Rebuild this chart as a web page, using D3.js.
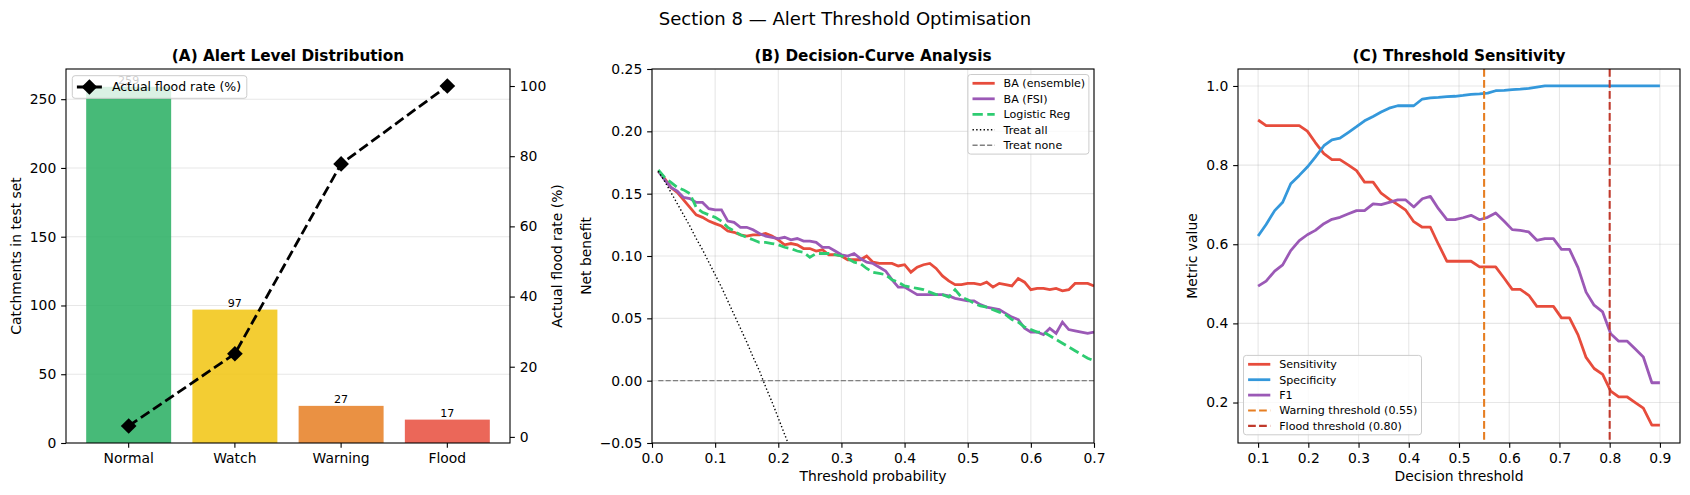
<!DOCTYPE html>
<html>
<head>
<meta charset="utf-8">
<script src="https://cdn.jsdelivr.net/npm/d3@7"></script>
<style>
  body { margin: 0; background: #fff; }
  text { font-family: "DejaVu Sans", sans-serif; }
</style>
</head>
<body>
<svg id="chart"></svg>
<script>
// panel A data
const alertLevels = ['Normal', 'Watch', 'Warning', 'Flood']
const alertCounts = [259, 97, 27, 17]
const alertFloodRate = [3.1, 23.7, 77.8, 100]
const alertColors = ['#27ae60', '#f1c40f', '#e67e22', '#e74c3c']

// panel B data (decision curves)
const dcaThresholds = [0.01, 0.02, 0.03, 0.04, 0.05, 0.06, 0.07, 0.08, 0.09, 0.10,
  0.11, 0.12, 0.13, 0.14, 0.15, 0.16, 0.17, 0.18, 0.19, 0.20,
  0.21, 0.22, 0.23, 0.24, 0.25, 0.26, 0.27, 0.28, 0.29, 0.30,
  0.31, 0.32, 0.33, 0.34, 0.35, 0.36, 0.37, 0.38, 0.39, 0.40,
  0.41, 0.42, 0.43, 0.44, 0.45, 0.46, 0.47, 0.48, 0.49, 0.50,
  0.51, 0.52, 0.53, 0.54, 0.55, 0.56, 0.57, 0.58, 0.59, 0.60,
  0.61, 0.62, 0.63, 0.64, 0.65, 0.66, 0.67, 0.68, 0.69, 0.70]
const dcaEnsemble = [0.168, 0.162, 0.155, 0.151, 0.145, 0.139, 0.133, 0.131, 0.128, 0.126,
  0.124, 0.120, 0.119, 0.117, 0.116, 0.117, 0.117, 0.118, 0.116, 0.113,
  0.109, 0.110, 0.109, 0.106, 0.106, 0.104, 0.105, 0.101, 0.101, 0.100,
  0.097, 0.097, 0.097, 0.100, 0.095, 0.094, 0.094, 0.094, 0.092, 0.093,
  0.087, 0.091, 0.093, 0.094, 0.090, 0.084, 0.080, 0.077, 0.077, 0.078,
  0.078, 0.077, 0.079, 0.075, 0.078, 0.077, 0.076, 0.082, 0.079, 0.073,
  0.074, 0.074, 0.073, 0.074, 0.072, 0.073, 0.078, 0.078, 0.078, 0.076]
const dcaFsi = [0.168, 0.161, 0.155, 0.152, 0.147, 0.146, 0.143, 0.143, 0.138, 0.137,
  0.137, 0.128, 0.127, 0.123, 0.123, 0.121, 0.118, 0.116, 0.115, 0.114,
  0.115, 0.113, 0.114, 0.112, 0.112, 0.111, 0.107, 0.107, 0.104, 0.101,
  0.100, 0.102, 0.098, 0.095, 0.094, 0.091, 0.088, 0.081, 0.075, 0.075,
  0.072, 0.069, 0.069, 0.069, 0.069, 0.069, 0.068, 0.066, 0.065, 0.064,
  0.064, 0.061, 0.059, 0.058, 0.057, 0.054, 0.051, 0.049, 0.042, 0.039,
  0.039, 0.037, 0.042, 0.038, 0.047, 0.041, 0.040, 0.039, 0.038, 0.039]
const dcaLogistic = [0.169, 0.163, 0.159, 0.155, 0.153, 0.150, 0.139, 0.135, 0.133, 0.131,
  0.128, 0.123, 0.120, 0.117, 0.115, 0.113, 0.111, 0.111, 0.110, 0.109,
  0.107, 0.106, 0.104, 0.103, 0.099, 0.102, 0.102, 0.102, 0.101, 0.100,
  0.098, 0.095, 0.094, 0.090, 0.087, 0.086, 0.085, 0.081, 0.079, 0.076,
  0.075, 0.074, 0.073, 0.071, 0.069, 0.069, 0.067, 0.073, 0.067, 0.065,
  0.062, 0.060, 0.059, 0.057, 0.055, 0.053, 0.049, 0.047, 0.043, 0.041,
  0.039, 0.039, 0.036, 0.033, 0.030, 0.027, 0.024, 0.021, 0.018, 0.016]
// treat-all only matters until it leaves the plot
const dcaTreatAll = [0.168, 0.160, 0.151, 0.142, 0.133, 0.124, 0.114, 0.105, 0.095, 0.085,
  0.075, 0.064, 0.053, 0.042, 0.031, 0.019, 0.008, -0.005, -0.017, -0.030,
  -0.043, -0.056]
const dcaTreatNone = 0

// panel C data (threshold sweep)
const sweepThresholds = [0.100, 0.116, 0.133, 0.149, 0.165, 0.182, 0.198, 0.214, 0.231, 0.247,
  0.263, 0.280, 0.296, 0.312, 0.329, 0.345, 0.361, 0.378, 0.394, 0.410,
  0.427, 0.443, 0.459, 0.476, 0.492, 0.508, 0.524, 0.541, 0.557, 0.573,
  0.590, 0.606, 0.622, 0.639, 0.655, 0.671, 0.688, 0.704, 0.720, 0.737,
  0.753, 0.769, 0.786, 0.802, 0.818, 0.835, 0.851, 0.867, 0.884, 0.900]
const sensitivity = [0.914, 0.900, 0.900, 0.900, 0.900, 0.900, 0.886, 0.857, 0.829, 0.814,
  0.814, 0.800, 0.786, 0.757, 0.757, 0.729, 0.714, 0.700, 0.686, 0.657,
  0.643, 0.643, 0.600, 0.557, 0.557, 0.557, 0.557, 0.543, 0.543, 0.543,
  0.514, 0.486, 0.486, 0.471, 0.443, 0.443, 0.443, 0.414, 0.414, 0.371,
  0.314, 0.286, 0.271, 0.229, 0.214, 0.214, 0.200, 0.186, 0.143, 0.143]
const specificity = [0.621, 0.650, 0.685, 0.706, 0.753, 0.774, 0.795, 0.820, 0.849, 0.864,
  0.868, 0.883, 0.897, 0.912, 0.923, 0.934, 0.944, 0.950, 0.950, 0.950,
  0.967, 0.970, 0.971, 0.973, 0.974, 0.976, 0.979, 0.980, 0.982, 0.988,
  0.989, 0.991, 0.992, 0.994, 0.997, 1.000, 1.000, 1.000, 1.000, 1.000,
  1.000, 1.000, 1.000, 1.000, 1.000, 1.000, 1.000, 1.000, 1.000, 1.000]
const f1Score = [0.494, 0.507, 0.532, 0.548, 0.584, 0.609, 0.624, 0.635, 0.652, 0.663,
  0.668, 0.677, 0.685, 0.685, 0.702, 0.700, 0.706, 0.712, 0.712, 0.694,
  0.715, 0.721, 0.690, 0.662, 0.662, 0.667, 0.673, 0.662, 0.668, 0.679,
  0.658, 0.637, 0.635, 0.631, 0.610, 0.614, 0.614, 0.587, 0.587, 0.541,
  0.479, 0.446, 0.429, 0.374, 0.355, 0.355, 0.335, 0.315, 0.250, 0.250]
const warningThreshold = 0.55
const floodThreshold = 0.80

const width = 1690
const height = 495
const tickFont = '13.9px'
const legendFont = '11.1px'

const svg = d3.select('#chart')
  .attr('width', width)
  .attr('height', height)

// figure title
svg.append('text')
  .attr('x', 845)
  .attr('y', 24.5)
  .attr('text-anchor', 'middle')
  .attr('font-size', '18.06px')
  .text('Section 8 \u2014 Alert Threshold Optimisation')

// plot boxes (pixels)
const boxA = {left: 66, right: 510, top: 69, bottom: 443}
const boxB = {left: 652, right: 1094, top: 69, bottom: 443}
const boxC = {left: 1238, right: 1680, top: 69, bottom: 443}

// matplotlib-like tick style
function styleAxis(g) {
  g.select('.domain').remove()
  g.selectAll('.tick line').attr('stroke', '#000').attr('stroke-width', 1.1)
  g.selectAll('.tick text')
    .attr('fill', '#000')
    .attr('font-size', tickFont)
    .attr('font-family', 'DejaVu Sans')
}

function drawFrame(box) {
  svg.append('rect')
    .attr('x', box.left)
    .attr('y', box.top)
    .attr('width', box.right - box.left)
    .attr('height', box.bottom - box.top)
    .attr('fill', 'none')
    .attr('stroke', '#000')
    .attr('stroke-width', 1.1)
}

function drawTitle(box, label) {
  svg.append('text')
    .attr('x', (box.left + box.right) / 2)
    .attr('y', 60.7)
    .attr('text-anchor', 'middle')
    .attr('font-size', '15.28px')
    .attr('font-weight', 'bold')
    .text(label)
}

function drawXLabel(box, label) {
  svg.append('text')
    .attr('x', (box.left + box.right) / 2)
    .attr('y', 480.5)
    .attr('text-anchor', 'middle')
    .attr('font-size', tickFont)
    .text(label)
}

function drawYLabel(box, x, label) {
  svg.append('text')
    .attr('transform', `translate(${x}, ${(box.top + box.bottom) / 2}) rotate(-90)`)
    .attr('text-anchor', 'middle')
    .attr('font-size', tickFont)
    .text(label)
}

function drawGrid(box, x, y, xTicks, yTicks) {
  const grid = svg.append('g').attr('class', 'grid')
  if (xTicks) {
    grid.selectAll('.gx').data(xTicks).enter().append('line')
      .attr('x1', d => x(d)).attr('x2', d => x(d))
      .attr('y1', box.top).attr('y2', box.bottom)
      .attr('stroke', '#b0b0b0').attr('stroke-opacity', 0.3).attr('stroke-width', 1.1)
  }
  grid.selectAll('.gy').data(yTicks).enter().append('line')
    .attr('x1', box.left).attr('x2', box.right)
    .attr('y1', d => y(d)).attr('y2', d => y(d))
    .attr('stroke', '#b0b0b0').attr('stroke-opacity', 0.3).attr('stroke-width', 1.1)
}

// legend box with line samples; items: {label, color, width, dash, marker}
function drawLegend(x, y, w, rowTop, rowStep, items, fontSize, handleLen) {
  const h = rowTop * 2 + rowStep * (items.length - 1)
  const g = svg.append('g').attr('transform', `translate(${x}, ${y})`)
  g.append('rect')
    .attr('width', w)
    .attr('height', h)
    .attr('rx', 2.8)
    .attr('fill', '#fff')
    .attr('fill-opacity', 0.8)
    .attr('stroke', '#cccccc')
    .attr('stroke-width', 1)
  items.forEach((item, i) => {
    const cy = rowTop + i * rowStep
    g.append('line')
      .attr('x1', 4.6).attr('x2', 4.6 + handleLen)
      .attr('y1', cy).attr('y2', cy)
      .attr('stroke', item.color)
      .attr('stroke-width', item.width)
      .attr('stroke-dasharray', item.dash || null)
    if (item.marker) {
      g.append('path')
        .attr('d', d3.symbol(d3.symbolSquare, 123)())
        .attr('transform', `translate(${4.6 + handleLen / 2}, ${cy}) rotate(45)`)
        .attr('fill', item.color)
    }
    g.append('text')
      .attr('x', 4.6 + handleLen + fontSize * 0.8)
      .attr('y', cy)
      .attr('dy', '0.36em')
      .attr('font-size', fontSize + 'px')
      .text(item.label)
  })
}

/** (A) alert level distribution */
function drawAlertPanel() {
  const box = boxA
  const x = d3.scaleBand()
    .domain(alertLevels)
    .range([box.left, box.right])
    .paddingInner(0.2)
    .paddingOuter(0.19)
  const y = d3.scaleLinear().domain([0, 259 * 1.05]).range([box.bottom, box.top])
  const yRate = d3.scaleLinear().domain([-1.74, 104.85]).range([box.bottom, box.top])

  drawGrid(box, x, y, null, [50, 100, 150, 200, 250])

  svg.append('g').selectAll('rect')
    .data(alertLevels)
    .enter()
    .append('rect')
    .attr('x', d => x(d))
    .attr('y', (d, i) => y(alertCounts[i]))
    .attr('width', x.bandwidth())
    .attr('height', (d, i) => y(0) - y(alertCounts[i]))
    .attr('fill', (d, i) => alertColors[i])
    .attr('fill-opacity', 0.85)

  // count labels on bars
  svg.append('g').selectAll('text')
    .data(alertLevels)
    .enter()
    .append('text')
    .attr('x', d => x(d) + x.bandwidth() / 2)
    .attr('y', (d, i) => y(alertCounts[i]) - 2.7)
    .attr('text-anchor', 'middle')
    .attr('font-size', legendFont)
    .text((d, i) => alertCounts[i])

  svg.append('g')
    .attr('transform', `translate(0, ${box.bottom})`)
    .call(d3.axisBottom(x).tickSize(4.86).tickPadding(4.86).tickSizeOuter(0))
    .call(styleAxis)
  svg.append('g')
    .attr('transform', `translate(${box.left}, 0)`)
    .call(d3.axisLeft(y).tickValues([0, 50, 100, 150, 200, 250]).tickSize(4.86).tickPadding(4.86).tickSizeOuter(0))
    .call(styleAxis)
  svg.append('g')
    .attr('transform', `translate(${box.right}, 0)`)
    .call(d3.axisRight(yRate).tickValues([0, 20, 40, 60, 80, 100]).tickSize(4.86).tickPadding(4.86).tickSizeOuter(0))
    .call(styleAxis)

  // flood rate line on the twin axis
  const rateLine = d3.line()
    .x((d, i) => x(alertLevels[i]) + x.bandwidth() / 2)
    .y(d => yRate(d))
  svg.append('path')
    .datum(alertFloodRate)
    .attr('d', rateLine)
    .attr('fill', 'none')
    .attr('stroke', '#000')
    .attr('stroke-width', 2.78)
    .attr('stroke-dasharray', '10.3,4.45')
  svg.append('g').selectAll('path')
    .data(alertFloodRate)
    .enter()
    .append('path')
    .attr('d', d3.symbol(d3.symbolSquare, 123)())
    .attr('transform', (d, i) => `translate(${x(alertLevels[i]) + x.bandwidth() / 2}, ${yRate(d)}) rotate(45)`)
    .attr('fill', '#000')

  drawFrame(box)
  drawTitle(box, '(A) Alert Level Distribution')
  drawYLabel(box, 20.5, 'Catchments in test set')
  svg.append('text')
    .attr('transform', `translate(562, ${(box.top + box.bottom) / 2}) rotate(-90)`)
    .attr('text-anchor', 'middle')
    .attr('font-size', tickFont)
    .text('Actual flood rate (%)')

  drawLegend(72.3, 75.7, 174.5, 11.3, 0, [
    {label: 'Actual flood rate (%)', color: '#000', width: 2.78, dash: '10.3,4.45', marker: true}
  ], 12.5, 25)
}

/** (B) decision-curve analysis */
function drawDecisionPanel() {
  const box = boxB
  const x = d3.scaleLinear().domain([0, 0.7]).range([box.left, box.right])
  const y = d3.scaleLinear().domain([-0.05, 0.25]).range([box.bottom, box.top])
  const xTicks = [0, 0.1, 0.2, 0.3, 0.4, 0.5, 0.6, 0.7]
  const yTicks = [-0.05, 0, 0.05, 0.10, 0.15, 0.20, 0.25]

  drawGrid(box, x, y, xTicks, yTicks)

  svg.append('clipPath').attr('id', 'clip-b')
    .append('rect')
    .attr('x', box.left).attr('y', box.top)
    .attr('width', box.right - box.left).attr('height', box.bottom - box.top)

  const plot = svg.append('g').attr('clip-path', 'url(#clip-b)')
  const curve = d3.line()
    .x((d, i) => x(dcaThresholds[i]))
    .y(d => y(d))

  const series = [
    {values: dcaEnsemble, color: '#e74c3c', width: 2.78, dash: null},
    {values: dcaFsi, color: '#9b59b6', width: 2.78, dash: null},
    {values: dcaLogistic, color: '#2ecc71', width: 2.78, dash: '10.3,4.45'},
    {values: dcaTreatAll, color: '#000', width: 1.39, dash: '1.39,2.29'}
  ]
  series.forEach(s => {
    plot.append('path')
      .datum(s.values)
      .attr('d', curve)
      .attr('fill', 'none')
      .attr('stroke', s.color)
      .attr('stroke-width', s.width)
      .attr('stroke-dasharray', s.dash)
  })
  plot.append('line')
    .attr('x1', x(dcaThresholds[0]))
    .attr('x2', x(dcaThresholds[dcaThresholds.length - 1]))
    .attr('y1', y(dcaTreatNone))
    .attr('y2', y(dcaTreatNone))
    .attr('stroke', 'gray')
    .attr('stroke-width', 1.39)
    .attr('stroke-dasharray', '5.1,2.2')

  svg.append('g')
    .attr('transform', `translate(0, ${box.bottom})`)
    .call(d3.axisBottom(x).tickValues(xTicks).tickFormat(d3.format('.1f')).tickSize(4.86).tickPadding(4.86).tickSizeOuter(0))
    .call(styleAxis)
  svg.append('g')
    .attr('transform', `translate(${box.left}, 0)`)
    .call(d3.axisLeft(y).tickValues(yTicks).tickFormat(d3.format('.2f')).tickSize(4.86).tickPadding(4.86).tickSizeOuter(0))
    .call(styleAxis)

  drawFrame(box)
  drawTitle(box, '(B) Decision-Curve Analysis')
  drawXLabel(box, 'Threshold probability')
  drawYLabel(box, 590.8, 'Net benefit')

  drawLegend(967.9, 74.5, 121, 8.8, 15.5, [
    {label: 'BA (ensemble)', color: '#e74c3c', width: 2.78},
    {label: 'BA (FSI)', color: '#9b59b6', width: 2.78},
    {label: 'Logistic Reg', color: '#2ecc71', width: 2.78, dash: '10.3,4.45'},
    {label: 'Treat all', color: '#000', width: 1.39, dash: '1.39,2.29'},
    {label: 'Treat none', color: 'gray', width: 1.39, dash: '5.1,2.2'}
  ], 11.1, 22.2)
}

/** (C) threshold sensitivity */
function drawSweepPanel() {
  const box = boxC
  const x = d3.scaleLinear().domain([0.06, 0.94]).range([box.left, box.right])
  const y = d3.scaleLinear().domain([0.0977, 1.0429]).range([box.bottom, box.top])
  const xTicks = [0.1, 0.2, 0.3, 0.4, 0.5, 0.6, 0.7, 0.8, 0.9]
  const yTicks = [0.2, 0.4, 0.6, 0.8, 1.0]

  drawGrid(box, x, y, xTicks, yTicks)

  const curve = d3.line()
    .x((d, i) => x(sweepThresholds[i]))
    .y(d => y(d))
  const series = [
    {values: sensitivity, color: '#e74c3c'},
    {values: specificity, color: '#3498db'},
    {values: f1Score, color: '#9b59b6'}
  ]
  series.forEach(s => {
    svg.append('path')
      .datum(s.values)
      .attr('d', curve)
      .attr('fill', 'none')
      .attr('stroke', s.color)
      .attr('stroke-width', 2.78)
      .attr('stroke-linejoin', 'round')
  })

  // alert thresholds
  const thresholds = [
    {value: warningThreshold, color: '#e67e22'},
    {value: floodThreshold, color: '#c0392b'}
  ]
  thresholds.forEach(t => {
    svg.append('line')
      .attr('x1', x(t.value)).attr('x2', x(t.value))
      .attr('y1', box.top).attr('y2', box.bottom)
      .attr('stroke', t.color)
      .attr('stroke-width', 2.08)
      .attr('stroke-dasharray', '7.7,3.3')
  })

  svg.append('g')
    .attr('transform', `translate(0, ${box.bottom})`)
    .call(d3.axisBottom(x).tickValues(xTicks).tickFormat(d3.format('.1f')).tickSize(4.86).tickPadding(4.86).tickSizeOuter(0))
    .call(styleAxis)
  svg.append('g')
    .attr('transform', `translate(${box.left}, 0)`)
    .call(d3.axisLeft(y).tickValues(yTicks).tickFormat(d3.format('.1f')).tickSize(4.86).tickPadding(4.86).tickSizeOuter(0))
    .call(styleAxis)

  drawFrame(box)
  drawTitle(box, '(C) Threshold Sensitivity')
  drawXLabel(box, 'Decision threshold')
  drawYLabel(box, 1197.3, 'Metric value')

  drawLegend(1243.5, 355.4, 178, 8.9, 15.4, [
    {label: 'Sensitivity', color: '#e74c3c', width: 2.78},
    {label: 'Specificity', color: '#3498db', width: 2.78},
    {label: 'F1', color: '#9b59b6', width: 2.78},
    {label: 'Warning threshold (0.55)', color: '#e67e22', width: 2.08, dash: '7.7,3.3'},
    {label: 'Flood threshold (0.80)', color: '#c0392b', width: 2.08, dash: '7.7,3.3'}
  ], 11.1, 22.2)
}

drawAlertPanel()
drawDecisionPanel()
drawSweepPanel()
</script>
</body>
</html>
